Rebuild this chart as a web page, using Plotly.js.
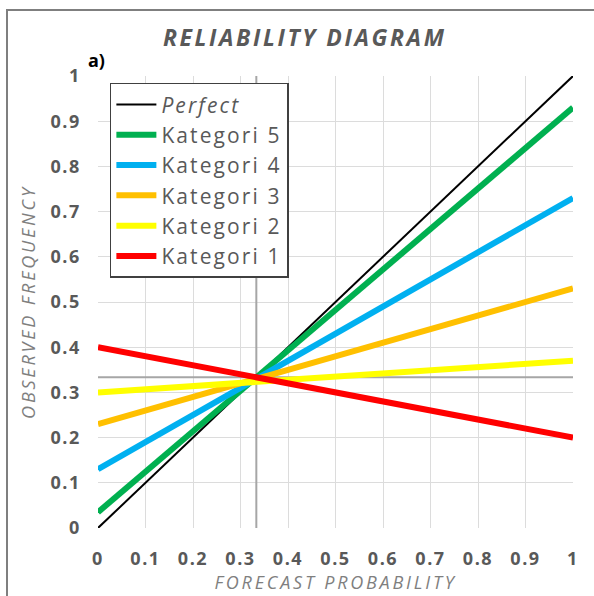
<!DOCTYPE html>
<html>
<head>
<meta charset="utf-8">
<script src="https://cdn.plot.ly/plotly-3.0.1.min.js"></script>
<style>
html,body{margin:0;padding:0;background:#fff;}
#chart{width:594px;height:596px;}
.legendtext{letter-spacing:2.1px;}
.gtitle{letter-spacing:2.6px;}
.xtitle,.ytitle{letter-spacing:2.8px;}
.xtick text,.ytick text{letter-spacing:1.6px;}
</style>
</head>
<body>
<div id="chart"></div>
<script>
// Data
const forecastProb = [0, 1];
const perfect = [0, 1];
const kategori5 = [0.035, 0.93];
const kategori4 = [0.13, 0.73];
const kategori3 = [0.23, 0.53];
const kategori2 = [0.30, 0.37];
const kategori1 = [0.40, 0.20];
const climatology = 1 / 3;
const tickVals = [0, 0.1, 0.2, 0.3, 0.4, 0.5, 0.6, 0.7, 0.8, 0.9, 1];
const tickText = ['0', '0.1', '0.2', '0.3', '0.4', '0.5', '0.6', '0.7', '0.8', '0.9', '1'];

const gray = '#595959';
const fontFam = '"Open Sans", "DejaVu Sans", sans-serif';

const traces = [
  {x: forecastProb, y: [climatology, climatology], mode: 'lines', line: {color: '#a6a6a6', width: 2}, showlegend: false, hoverinfo: 'skip'},
  {x: [climatology, climatology], y: forecastProb, mode: 'lines', line: {color: '#a6a6a6', width: 2}, showlegend: false, hoverinfo: 'skip'},
  {x: forecastProb, y: perfect, name: '<i>Perfect</i>', mode: 'lines', line: {color: '#000000', width: 2}},
  {x: forecastProb, y: kategori5, name: 'Kategori 5', mode: 'lines', line: {color: '#00B050', width: 6}},
  {x: forecastProb, y: kategori4, name: 'Kategori 4', mode: 'lines', line: {color: '#00B0F0', width: 6}},
  {x: forecastProb, y: kategori3, name: 'Kategori 3', mode: 'lines', line: {color: '#FFC000', width: 6}},
  {x: forecastProb, y: kategori2, name: 'Kategori 2', mode: 'lines', line: {color: '#FFFF00', width: 6}},
  {x: forecastProb, y: kategori1, name: 'Kategori 1', mode: 'lines', line: {color: '#FF0000', width: 6}}
];

const layout = {
  width: 594, height: 596,
  margin: {l: 98, r: 21, t: 76, b: 68},
  paper_bgcolor: '#ffffff', plot_bgcolor: '#ffffff',
  font: {family: fontFam, color: gray},
  title: {text: '<b><i>RELIABILITY DIAGRAM</i></b>', x: 0.513, xref: 'container', xanchor: 'center',
          y: 1 - 38 / 596, yref: 'container', yanchor: 'middle',
          font: {size: 23, color: gray, family: fontFam}},
  xaxis: {range: [0, 1], tickvals: tickVals, ticktext: tickText, ticks: '', showline: false, zeroline: false,
          gridcolor: '#dcdcdc', gridwidth: 1, ticklabelstandoff: 18,
          tickfont: {size: 18, color: gray, family: fontFam, weight: 'bold'},
          title: {text: '<i>FORECAST PROBABILITY</i>', standoff: 2, font: {size: 18, color: '#7f7f7f', family: fontFam}}},
  yaxis: {range: [0, 1], tickvals: tickVals, ticktext: tickText, ticks: '', showline: false, zeroline: false,
          gridcolor: '#dcdcdc', gridwidth: 1, ticklabelstandoff: 16,
          tickfont: {size: 18, color: gray, family: fontFam, weight: 'bold'},
          title: {text: '<i>OBSERVED FREQUENCY</i>', standoff: 10, font: {size: 18, color: '#7f7f7f', family: fontFam}}},
  legend: {x: 0.025, y: 0.985, xanchor: 'left', yanchor: 'top', bgcolor: '#ffffff', bordercolor: '#404040', borderwidth: 1.5,
           font: {size: 21, color: gray, family: fontFam}, itemwidth: 40, tracegroupgap: 0},
  shapes: [
    {type: 'rect', xref: 'paper', yref: 'paper', x0: (7 - 98) / 475, x1: 1.2, y0: -0.3, y1: (528 - 10) / 452,
     line: {color: '#7f7f7f', width: 2}, fillcolor: 'rgba(0,0,0,0)', layer: 'below'}
  ],
  annotations: [
    {text: '<b>a)</b>', xref: 'paper', yref: 'paper', x: (86 - 98) / 475, y: (528 - 60) / 452, xanchor: 'left', yanchor: 'middle',
     showarrow: false, font: {size: 18, color: '#000000', family: fontFam}}
  ]
};

Plotly.newPlot('chart', traces, layout, {displayModeBar: false, staticPlot: true});
</script>
</body>
</html>
